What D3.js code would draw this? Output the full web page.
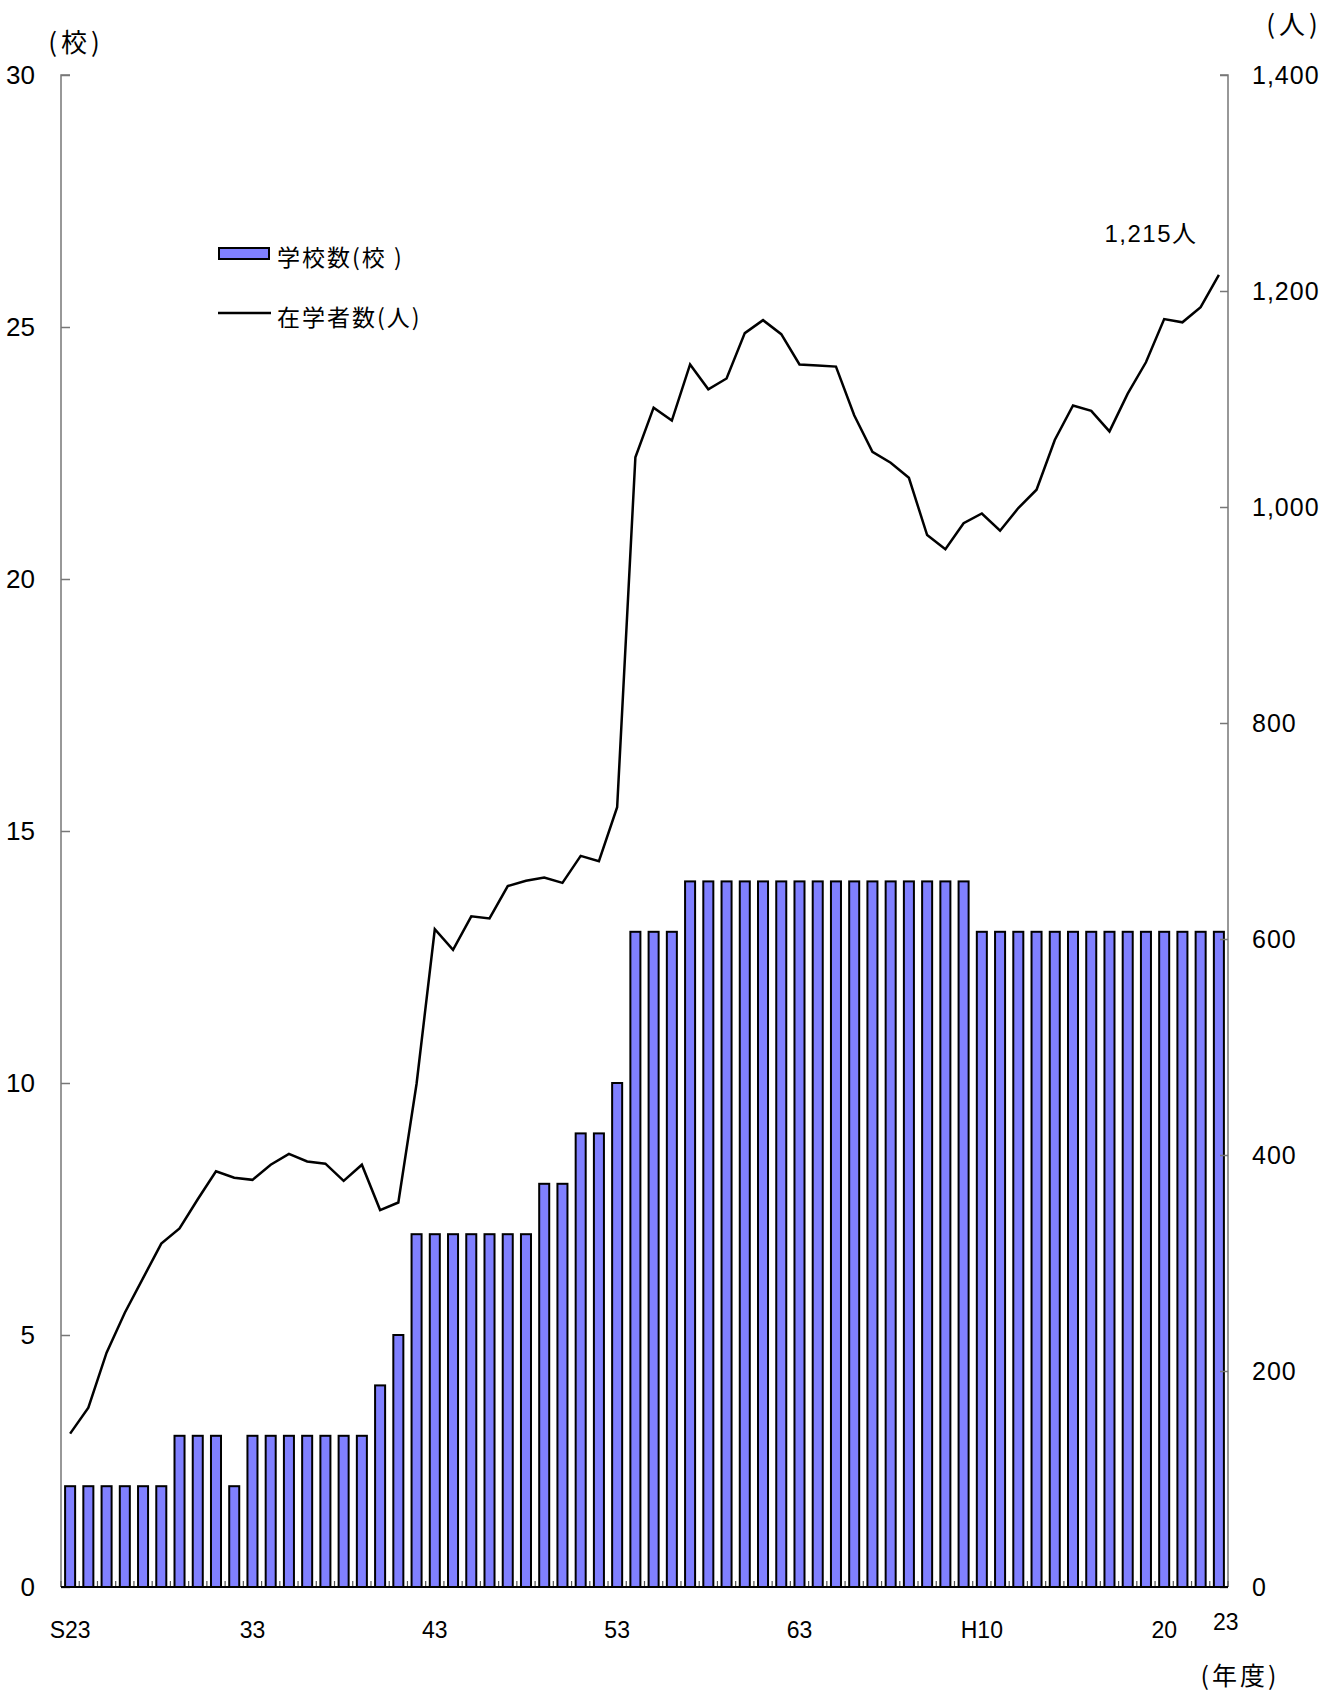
<!DOCTYPE html>
<html>
<head>
<meta charset="utf-8">
<script src="https://cdn.jsdelivr.net/npm/d3@7"></script>
<style>
  html, body { margin: 0; padding: 0; background: #fff; }
  svg { display: block; }
  .num { font-family: "Liberation Sans", Arial, sans-serif; }
  .jp { font-family: "Noto Sans CJK JP", "Noto Sans", sans-serif; }
  .mix { font-family: "Liberation Sans", "Noto Sans CJK JP", sans-serif; }
</style>
</head>
<body>
<svg id="chart" width="1340" height="1694"></svg>
<script>
// Fiscal years S23 (1948) .. H23 (2011)
const years = d3.range(1948, 2012);

// 学校数 (校)
const schools = [
  2, 2, 2, 2, 2, 2, 3, 3, 3, 2,
  3, 3, 3, 3, 3, 3, 3, 4, 5, 7,
  7, 7, 7, 7, 7, 7, 8, 8, 9, 9,
  10, 13, 13, 13, 14, 14, 14, 14, 14, 14,
  14, 14, 14, 14, 14, 14, 14, 14, 14, 14,
  13, 13, 13, 13, 13, 13, 13, 13, 13, 13,
  13, 13, 13, 13
];

// 在学者数 (人)
const students = [
  142, 166, 217, 254, 286, 318, 332, 359, 385, 379,
  377, 391, 401, 394, 392, 376, 391, 349, 356, 466,
  609, 590, 621, 619, 649, 654, 657, 652, 677, 672,
  722, 1046, 1092, 1080, 1132, 1109, 1119, 1161, 1173, 1160,
  1132, 1131, 1130, 1085, 1051, 1041, 1027, 974, 961, 985,
  994, 978, 999, 1016, 1062, 1094, 1089, 1070, 1105, 1134,
  1174, 1171, 1185, 1215
];

// x tick labels (year index -> label)
const xTickIdx = [0, 10, 20, 30, 40, 50, 60];
const xTickText = ["S23", "33", "43", "53", "63", "H10", "20"];
const lastLabel = "23";

const leftTicks = [0, 5, 10, 15, 20, 25, 30];
const rightTicks = [0, 200, 400, 600, 800, 1000, 1200, 1400];

const seriesNames = ["学校数(校 )", "在学者数(人)"];

const svg = d3.select("#chart");
const L = 61, R = 1228, T = 75, B = 1587;

const x = d3.scaleBand().domain(d3.range(years.length))
  .range([L, R]).paddingInner(0.45).paddingOuter(0.225);
const yL = d3.scaleLinear().domain([0, 30]).range([B, T]);
const yR = d3.scaleLinear().domain([0, 1400]).range([B, T]);

// bars
svg.append("g").selectAll("rect").data(schools).join("rect")
  .attr("x", (d, i) => x(i))
  .attr("y", d => yL(d))
  .attr("width", x.bandwidth())
  .attr("height", d => yL(0) - yL(d))
  .attr("fill", "#8080ff")
  .attr("stroke", "#000")
  .attr("stroke-width", 2);

// left axis
const axL = svg.append("g").attr("transform", `translate(${L},0)`)
  .call(d3.axisRight(yL).tickValues(leftTicks).tickSize(9).tickFormat(""));
axL.select(".domain").attr("stroke", "#777").attr("stroke-width", 1.5).attr("d", `M9,${T}H0V${B}`);
axL.selectAll(".tick line").attr("stroke", "#777").attr("stroke-width", 1.5);
svg.append("g").selectAll("text").data(leftTicks).join("text")
  .attr("class", "num")
  .attr("x", 35).attr("y", d => yL(d)).attr("dy", "0.36em")
  .attr("text-anchor", "end").attr("font-size", 26)
  .text(d => d);

// right axis
const axR = svg.append("g").attr("transform", `translate(${R},0)`)
  .call(d3.axisLeft(yR).tickValues(rightTicks).tickSize(8).tickFormat(""));
axR.select(".domain").attr("stroke", "#777").attr("stroke-width", 1.5).attr("d", `M-8,${T}H0V${B}`);
axR.selectAll(".tick line").attr("stroke", "#777").attr("stroke-width", 1.5);
svg.append("g").selectAll("text").data(rightTicks).join("text")
  .attr("class", "num")
  .attr("x", 1252).attr("y", d => yR(d)).attr("dy", "0.36em")
  .attr("text-anchor", "start").attr("font-size", 25)
  .attr("letter-spacing", 1)
  .text(d => d3.format(",")(d));

// x baseline + ticks at band boundaries
const step = x.step();
const bounds = d3.range(years.length + 1).map(i => L + i * step);
svg.append("g").selectAll("line").data(bounds).join("line")
  .attr("x1", d => d).attr("x2", d => d)
  .attr("y1", B).attr("y2", B - 6)
  .attr("stroke", "#555").attr("stroke-width", 1.2);
svg.append("line").attr("x1", L).attr("x2", R).attr("y1", B).attr("y2", B)
  .attr("stroke", "#000").attr("stroke-width", 2);

// x labels
svg.append("g").selectAll("text").data(xTickIdx).join("text")
  .attr("class", "num")
  .attr("x", d => x(d) + x.bandwidth() / 2).attr("y", 1638)
  .attr("text-anchor", "middle").attr("font-size", 23)
  .text((d, i) => xTickText[i]);
svg.append("text").attr("class", "num")
  .attr("x", x(years.length - 1) + x.bandwidth() / 2 + 7).attr("y", 1630)
  .attr("text-anchor", "middle").attr("font-size", 23)
  .text(lastLabel);

// line
const line = d3.line()
  .x((d, i) => x(i) + x.bandwidth() / 2)
  .y(d => yR(d));
svg.append("path").datum(students)
  .attr("d", line)
  .attr("fill", "none").attr("stroke", "#000")
  .attr("stroke-width", 2.5).attr("stroke-linejoin", "miter");

// unit labels
svg.append("text").attr("class", "jp").attr("x", 76).attr("y", 52)
  .attr("text-anchor", "middle").attr("font-size", 26).attr("letter-spacing", 4).text("(校)");
svg.append("text").attr("class", "jp").attr("x", 1294).attr("y", 34)
  .attr("text-anchor", "middle").attr("font-size", 26).attr("letter-spacing", 4).text("(人)");
svg.append("text").attr("class", "jp").attr("x", 1240).attr("y", 1685)
  .attr("text-anchor", "middle").attr("font-size", 25).attr("letter-spacing", 3).text("(年度)");

// annotation
svg.append("text").attr("class", "mix").attr("x", 1151).attr("y", 242)
  .attr("text-anchor", "middle").attr("font-size", 24).attr("letter-spacing", 1.5)
  .text(d3.format(",")(students[students.length - 1]) + "人");

// legend
const lg = svg.append("g");
lg.append("rect").attr("x", 219).attr("y", 248).attr("width", 50).attr("height", 11)
  .attr("fill", "#8080ff").attr("stroke", "#000").attr("stroke-width", 2);
lg.append("text").attr("class", "jp").attr("x", 277).attr("y", 266)
  .attr("font-size", 23).attr("letter-spacing", 2).text(seriesNames[0]);
lg.append("line").attr("x1", 218).attr("x2", 271).attr("y1", 313).attr("y2", 313)
  .attr("stroke", "#000").attr("stroke-width", 2.5);
lg.append("text").attr("class", "jp").attr("x", 277).attr("y", 326)
  .attr("font-size", 23).attr("letter-spacing", 2).text(seriesNames[1]);
</script>
</body>
</html>
